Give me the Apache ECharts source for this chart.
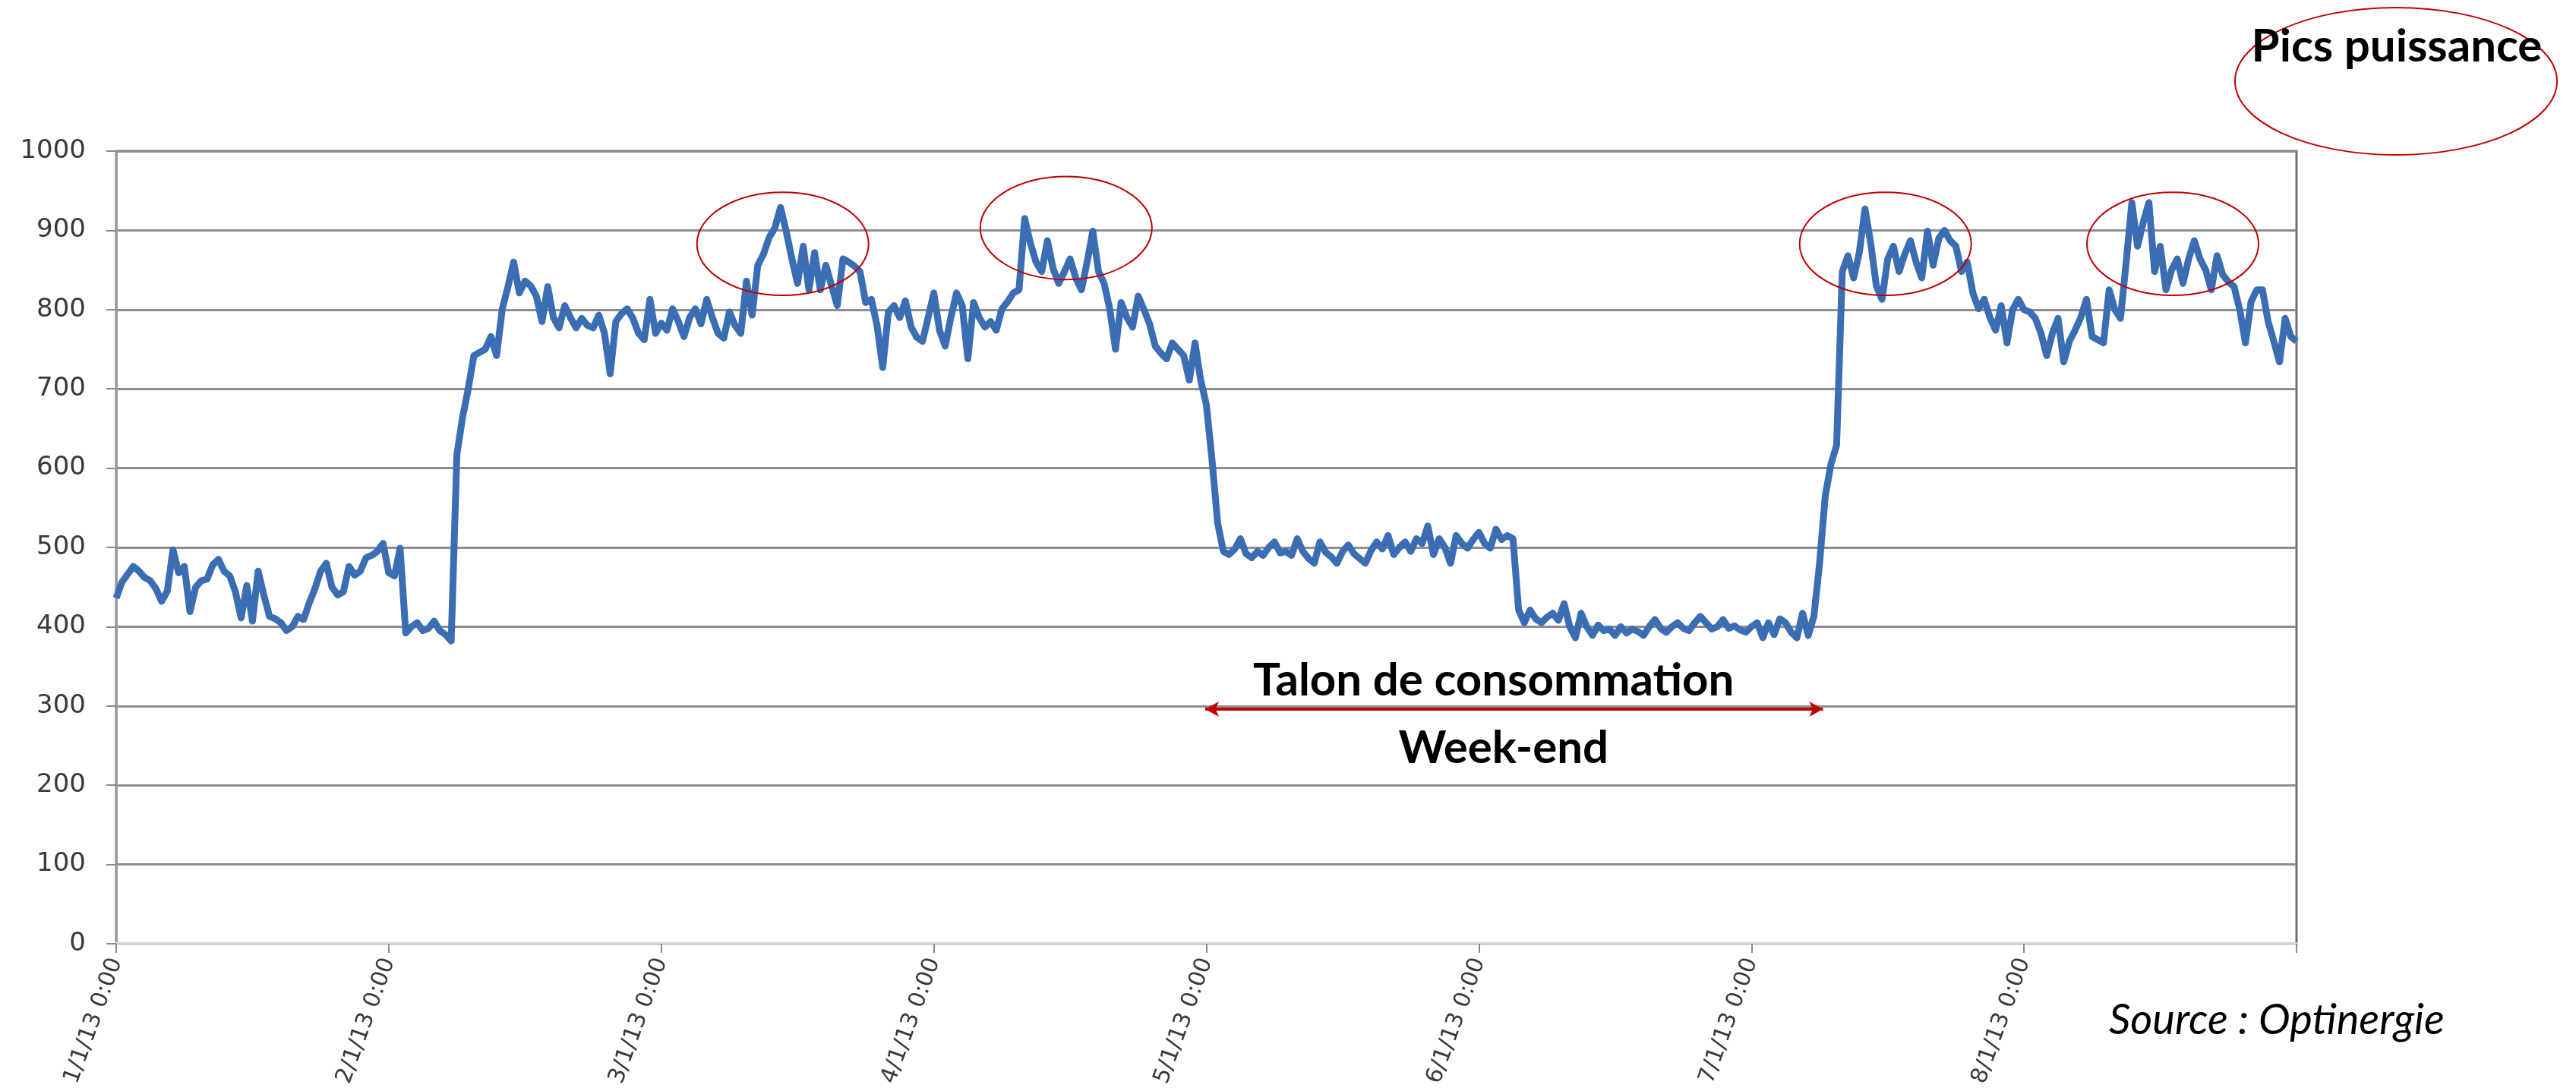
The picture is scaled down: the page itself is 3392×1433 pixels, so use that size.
<!DOCTYPE html>
<html>
<head>
<meta charset="utf-8">
<title>Courbe de charge</title>
<script src="https://cdn.jsdelivr.net/npm/echarts@6/dist/echarts.min.js"></script>
<style>
  html, body { margin: 0; padding: 0; background: #ffffff; }
  #chart { width: 3392px; height: 1433px; }
</style>
</head>
<body>
<div id="chart"></div>
<script>
// Load curve, one reading every half hour (kW), from 1/1/13 0:00 to 9/1/13 0:00
const STEP_HOURS = 0.5;
const HOURS_PER_DAY = 24;

const day1 = [436, 456, 466, 476, 470, 462, 458, 448, 432, 445, 497, 468, 476, 419, 450, 458,
              460, 478, 485, 470, 464, 444, 411, 452, 407, 470, 440, 413, 410, 405, 395, 400,
              413, 409, 430, 448, 470, 480, 450, 440, 444, 476, 465, 470, 487, 490, 495, 505];
const day2 = [468, 464, 499, 392, 400, 405, 395, 398, 407, 395, 390, 382, 617, 664, 700, 742,
              746, 750, 766, 742, 801, 829, 860, 821, 836, 830, 817, 785, 829, 790, 777, 805,
              790, 777, 789, 780, 777, 793, 770, 719, 785, 795, 801, 789, 770, 762, 813, 770];
const day3 = [783, 774, 801, 785, 766, 790, 801, 782, 813, 790, 770, 764, 797, 780, 770, 836,
              793, 856, 870, 891, 903, 929, 899, 864, 833, 880, 825, 872, 825, 856, 830, 805,
              864, 860, 855, 848, 809, 813, 780, 727, 797, 805, 790, 811, 778, 765, 760, 790];
const day4 = [821, 774, 754, 790, 821, 805, 738, 809, 790, 778, 785, 774, 801, 810, 821, 825,
              915, 884, 860, 848, 887, 852, 833, 848, 864, 840, 825, 860, 899, 848, 833, 800,
              750, 809, 790, 778, 817, 800, 782, 754, 745, 738, 758, 750, 742, 711, 758, 711];
const day5 = [680, 610, 530, 495, 491, 498, 511, 492, 487, 495, 490, 500, 507, 493, 495, 490,
              511, 495, 486, 480, 507, 494, 488, 480, 495, 503, 492, 486, 480, 496, 507, 498,
              515, 491, 500, 507, 495, 511, 505, 527, 491, 511, 500, 480, 515, 505, 499, 510];
const day6 = [519, 505, 499, 523, 510, 515, 511, 421, 405, 421, 410, 405, 412, 417, 408, 429,
              400, 386, 417, 400, 389, 402, 395, 397, 389, 400, 392, 397, 394, 389, 400, 409,
              398, 393, 400, 405, 398, 395, 405, 413, 405, 397, 400, 409, 398, 401, 396, 393];
const day7 = [400, 405, 386, 405, 390, 410, 405, 393, 386, 417, 389, 413, 480, 565, 605, 629,
              848, 868, 840, 872, 927, 884, 830, 813, 864, 880, 848, 870, 887, 860, 840, 899,
              856, 890, 900, 887, 880, 848, 860, 821, 801, 813, 790, 774, 805, 758, 800, 813];
const day8 = [800, 797, 789, 770, 742, 770, 789, 734, 760, 774, 790, 813, 766, 762, 758, 825,
              800, 789, 860, 935, 880, 910, 935, 848, 880, 825, 850, 864, 833, 864, 887, 864,
              850, 825, 868, 844, 835, 829, 800, 758, 810, 825, 825, 785, 760, 734, 789, 766];
const lastReading = [760];

const xTickLabels = ['1/1/13 0:00', '2/1/13 0:00', '3/1/13 0:00', '4/1/13 0:00',
                     '5/1/13 0:00', '6/1/13 0:00', '7/1/13 0:00', '8/1/13 0:00'];

// Annotated power peaks: [hour, kW] at the centre of each circled area
const peakCentres = [[58.7, 883], [83.65, 903], [155.8, 883], [181.1, 883]];
// Weekend base load span: [start hour, end hour, kW level]
const weekendSpan = [95.9, 150.3, 296];

const readings = [].concat(day1, day2, day3, day4, day5, day6, day7, day8, lastReading);
const seriesData = readings.map((v, i) => [i * STEP_HOURS, v]);

const RED = '#c00000';
const labelFont = 'DejaVu Sans';
const noteFont = 'Lato';

const chart = echarts.init(document.getElementById('chart'), null, { renderer: 'canvas' });

const option = {
  backgroundColor: '#ffffff',
  animation: false,
  grid: {
    left: 153, right: 368, top: 199, bottom: 190,
    outerBoundsMode: 'none',
    containLabel: false,
    show: true, borderColor: '#6f6f6f', borderWidth: 3, backgroundColor: 'transparent'
  },
  xAxis: {
    type: 'value',
    min: 0,
    max: HOURS_PER_DAY * 8,
    interval: HOURS_PER_DAY,
    axisLine: { show: true, lineStyle: { color: '#d2d2d2', width: 4 } },
    axisTick: { show: true, length: 12, lineStyle: { color: '#8a8a8a', width: 2 } },
    splitLine: { show: false },
    axisLabel: {
      rotate: 70,
      margin: 20,
      fontFamily: labelFont,
      fontSize: 30,
      color: '#3a3a3a',
      formatter: v => xTickLabels[Math.round(v / HOURS_PER_DAY)] || ''
    }
  },
  yAxis: {
    type: 'value',
    min: 0,
    max: 1000,
    interval: 100,
    axisLine: { show: true, lineStyle: { color: '#9a9a9a', width: 3 } },
    axisTick: { show: true, length: 13, lineStyle: { color: '#8a8a8a', width: 2 } },
    splitLine: { show: true, lineStyle: { color: '#8e8e8e', width: 3 } },
    axisLabel: {
      margin: 40,
      fontFamily: labelFont,
      fontSize: 34,
      color: '#3a3a3a',
      formatter: v => String(v)
    }
  },
  series: [{
    type: 'line',
    data: seriesData,
    showSymbol: false,
    lineStyle: { color: '#3b6db3', width: 9, join: 'round' },
    z: 3,
    markLine: {
      silent: true,
      symbol: ['arrow', 'arrow'],
      symbolSize: [15, 18],
      label: { show: false },
      lineStyle: { color: RED, width: 4, type: 'solid' },
      data: [[
        { coord: [weekendSpan[0], weekendSpan[2]] },
        { coord: [weekendSpan[1], weekendSpan[2]] }
      ]]
    }
  }]
};

chart.setOption(option);

// Notes and circled areas placed from the data coordinates
function drawNotes() {
  const gridTop = chart.convertToPixel({ gridIndex: 0 }, [0, 1000]);
  const gridBottom = chart.convertToPixel({ gridIndex: 0 }, [0, 0]);
  const pxPerKw = (gridBottom[1] - gridTop[1]) / 1000;
  const pxPerHour = chart.convertToPixel({ gridIndex: 0 }, [HOURS_PER_DAY, 0])[0] - gridBottom[0];

  const ellipses = peakCentres.map(c => {
    const p = chart.convertToPixel({ gridIndex: 0 }, c);
    return {
      type: 'ellipse',
      shape: { cx: p[0], cy: p[1], rx: pxPerHour * 0.315, ry: pxPerKw * 65 },
      style: { fill: 'none', stroke: RED, lineWidth: 2 },
      z: 10
    };
  });

  const spanStart = chart.convertToPixel({ gridIndex: 0 }, [weekendSpan[0], weekendSpan[2]]);
  const spanEnd = chart.convertToPixel({ gridIndex: 0 }, [weekendSpan[1], weekendSpan[2]]);
  const spanMid = (spanStart[0] + spanEnd[0]) / 2;

  chart.setOption({
    graphic: [
      ...ellipses,
      {
        type: 'ellipse',
        shape: { cx: 3155, cy: 107, rx: 212, ry: 97 },
        style: { fill: 'none', stroke: RED, lineWidth: 2 },
        z: 10
      },
      {
        type: 'text',
        x: 3156, y: 62,
        style: {
          text: 'Pics puissance',
          font: 'bold 60px ' + noteFont,
          fill: '#000000',
          align: 'center', verticalAlign: 'middle'
        },
        z: 11
      },
      {
        type: 'text',
        x: spanMid - 27, y: spanStart[1] - 37,
        style: {
          text: 'Talon de consommation',
          font: 'bold 60px ' + noteFont,
          fill: '#000000',
          align: 'center', verticalAlign: 'middle'
        },
        z: 11
      },
      {
        type: 'text',
        x: spanMid - 14, y: spanStart[1] + 52,
        style: {
          text: 'Week-end',
          font: 'bold 60px ' + noteFont,
          fill: '#000000',
          align: 'center', verticalAlign: 'middle'
        },
        z: 11
      },
      {
        type: 'text',
        x: 2777, y: 1344,
        style: {
          text: 'Source : Optinergie',
          font: 'italic 56px ' + noteFont,
          fill: '#000000',
          align: 'left', verticalAlign: 'middle'
        },
        z: 11
      }
    ]
  });
}

drawNotes();
</script>
</body>
</html>
